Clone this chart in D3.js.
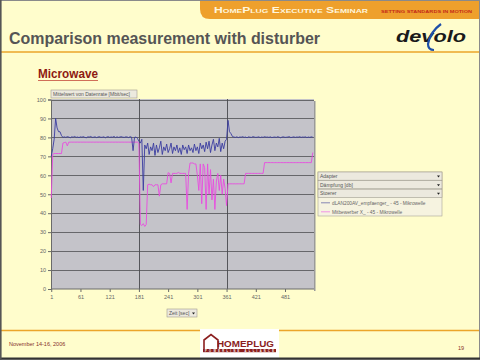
<!DOCTYPE html>
<html>
<head>
<meta charset="utf-8">
<script src="https://cdn.jsdelivr.net/npm/d3@7"></script>
<style>
  html, body { margin: 0; padding: 0; background: #fffdcc; }
  svg text { font-family: "Liberation Sans", Arial, sans-serif; }
</style>
</head>
<body>
<div id="slide"></div>
<script>
// sample times (sec), one reading every 3 seconds
const timeSec = d3.range(1, 541, 3);

// dLAN200AV_empfaenger_ - 45 - Mikrowelle  (Mbit/sec)
const dlanValues = [
  70, 74, 79, 90, 85, 83, 83, 81, 80, 80.3,
  80, 80.4, 80.2, 79.8, 80.3, 80.1, 80.5, 80, 80.2, 79.9,
  80.3, 80.1, 80.4, 80, 79.8, 80.3, 80.2, 80.5, 80, 80.1,
  80.3, 79.9, 80.2, 80.4, 80, 80.1, 80.3, 79.8, 80.2, 80.4,
  80, 80.2, 80.1, 80.5, 79.9, 80.3, 80, 80.2, 80.4, 80.1,
  80, 80.3, 80.2, 79.9, 80.4, 80.1, 73, 80, 80.2, 79.5,
  78, 77, 79, 52, 76, 74, 77, 71, 75, 73,
  77, 70.5, 76, 72, 74.5, 78, 71, 75, 73, 76.5,
  72, 74, 77, 71.5, 75, 73, 76, 72, 74.5, 71,
  76, 73.5, 75, 71.5, 76, 73, 74.5, 72, 76.5, 73,
  75, 71.5, 77, 74, 76, 72.5, 77.5, 74, 78, 72,
  76, 79, 73, 77, 75, 79.5, 72.5, 77, 74, 78,
  79, 89, 83, 82, 80.5, 80.2, 80, 80.3, 79.9, 80.2,
  80.1, 80.4, 80, 80.2, 79.8, 80.3, 80.1, 80, 80.4, 80.2,
  80, 80.1, 80.3, 79.9, 80.2, 80, 80.4, 80.1, 80.2, 80,
  80.3, 79.9, 80.1, 80.2, 80, 80.4, 80.1, 79.8, 80.2, 80.3,
  80, 80.1, 80.2, 80.4, 79.9, 80.1, 80.3, 80, 80.2, 80.1,
  80.4, 80, 80.2, 80.1, 80.3, 79.9, 80.2, 80, 80.3, 80.1
];

// Mitbewerber X_ - 45 - Mikrowelle  (Mbit/sec)
const rivalValues = [
  48, 71, 71.5, 71.5, 71.5, 71.5, 71.5, 71.5, 77, 77.3,
  77.5, 75.5, 77.5, 77.5, 77.5, 77.5, 77.5, 77.5, 77.5, 77.5,
  77.5, 77.5, 77.5, 77.5, 77.5, 77.5, 77.5, 77.5, 77.5, 77.5,
  77.5, 77.5, 77.5, 77.5, 77.5, 77.5, 77.5, 77.5, 77.5, 77.5,
  77.5, 77.5, 77.5, 77.5, 77.5, 77.5, 77.5, 77.5, 77.5, 77.5,
  77.5, 77.5, 77.5, 77.5, 77.5, 77.5, 77.5, 77.5, 77.5, 77.5,
  77, 34, 33.5, 34.5, 33, 34, 55, 55.3, 55, 55,
  54, 55, 55, 55, 49, 55, 55.5, 55.5, 55.5, 55.5,
  61.4, 61, 56, 61, 61, 61, 61, 61.5, 61, 61,
  61, 61, 61, 42, 61, 66.5, 66.5, 66.5, 66, 66,
  60, 52, 66, 45, 66, 64, 42, 66, 50, 63,
  47, 58, 42, 57, 61, 52, 60, 50, 58, 53,
  44, 55.5, 55.5, 55.5, 55.5, 55.5, 55.5, 55.5, 55.5, 55.5,
  55.5, 55.5, 55.5, 61, 61, 61, 61, 61, 61, 61,
  61, 61, 61, 61, 61, 61, 66.7, 66.7, 66.7, 66.7,
  66.7, 66.7, 66.7, 66.7, 66.7, 66.7, 66.7, 66.7, 66.7, 66.7,
  66.7, 66.7, 66.7, 66.7, 66.7, 66.7, 66.7, 66.7, 66.7, 66.7,
  66.7, 66.7, 66.7, 66.7, 66.7, 66.7, 66.7, 66.7, 66.7, 72
];

const yTicks = [0, 10, 20, 30, 40, 50, 60, 70, 80, 90, 100];
const xTicks = [1, 61, 121, 181, 241, 301, 361, 421, 481];
const xGridLines = [181, 361];
const seriesNames = ["dLAN200AV_empfaenger_ - 45 - Mikrowelle", "Mitbewerber X_ - 45 - Mikrowelle"];
const filterNames = ["Adapter", "Dämpfung [db]", "Stoerer"];

const W = 480, H = 360;
const plot = { left: 51, right: 314, top: 99, bottom: 289 };

const svg = d3.select('#slide').append('svg')
  .attr('width', W)
  .attr('height', H);

svg.append('rect').attr('width', W).attr('height', H).attr('fill', '#fffdcc');

// top banner
svg.append('path')
  .attr('d', `M200,0 H480 V19 H210 Q200,19 200,9 Z`)
  .attr('fill', '#eea02c');
svg.append('text')
  .attr('x', 214).attr('y', 13)
  .attr('fill', '#fff6dc')
  .attr('font-size', 8.5).attr('font-weight', 'bold')
  .style('font-variant', 'small-caps')
  .attr('textLength', 154).attr('lengthAdjust', 'spacingAndGlyphs')
  .text('HomePlug Executive Seminar');
svg.append('text')
  .attr('x', 381).attr('y', 12.5)
  .attr('fill', '#c42a18')
  .attr('font-size', 4.2).attr('font-weight', 'bold')
  .attr('textLength', 91).attr('lengthAdjust', 'spacingAndGlyphs')
  .text('SETTING STANDARDS IN MOTION');

// title
svg.append('text')
  .attr('x', 9).attr('y', 44)
  .attr('fill', '#555555')
  .attr('font-size', 16.5).attr('font-weight', 'bold')
  .attr('textLength', 311).attr('lengthAdjust', 'spacingAndGlyphs')
  .text('Comparison measurement with disturber');

// devolo logo
svg.append('text')
  .attr('x', 396).attr('y', 42)
  .attr('fill', '#1a1a1a')
  .attr('font-size', 17).attr('font-weight', 'bold').attr('font-style', 'italic')
  .attr('textLength', 70).attr('lengthAdjust', 'spacingAndGlyphs')
  .text('devolo');
svg.append('path')
  .attr('d', 'M441,24 Q430,32 428,44 Q428,50 434,50')
  .attr('fill', 'none').attr('stroke', '#1d4fa8').attr('stroke-width', 2.2);

// rules
svg.append('line').attr('x1', 0).attr('x2', W).attr('y1', 52).attr('y2', 52)
  .attr('stroke', '#eba52a').attr('stroke-width', 1.6);
svg.append('line').attr('x1', 0).attr('x2', W).attr('y1', 330.5).attr('y2', 330.5)
  .attr('stroke', '#eba52a').attr('stroke-width', 1.6);

// subtitle
svg.append('text')
  .attr('x', 38).attr('y', 78)
  .attr('fill', '#8e1a12')
  .attr('font-size', 12.5).attr('font-weight', 'bold')
  .attr('textLength', 60).attr('lengthAdjust', 'spacingAndGlyphs')
  .text('Microwave');
svg.append('line').attr('x1', 38).attr('x2', 98).attr('y1', 80.5).attr('y2', 80.5)
  .attr('stroke', '#c44a3a').attr('stroke-width', 0.8);

// chart
const x = d3.scaleLinear().domain([0.5, 540.5]).range([plot.left, plot.right]);
const y = d3.scaleLinear().domain([0, 100]).range([plot.bottom, plot.top + 0.5]);

const chart = svg.append('g');

chart.append('rect')
  .attr('x', plot.right).attr('y', plot.top + 2)
  .attr('width', 1.5).attr('height', plot.bottom - plot.top)
  .attr('fill', '#9a9a9a');
chart.append('rect')
  .attr('x', plot.left).attr('y', plot.top)
  .attr('width', plot.right - plot.left).attr('height', plot.bottom - plot.top)
  .attr('fill', '#c4c3c9');

// gridlines
chart.selectAll('.hgrid')
  .data(yTicks.filter(d => d > 0))
  .enter().append('line')
  .attr('class', 'hgrid')
  .attr('x1', plot.left).attr('x2', plot.right)
  .attr('y1', d => Math.round(y(d)) + 0.5).attr('y2', d => Math.round(y(d)) + 0.5)
  .attr('stroke', '#5c5c60').attr('stroke-width', 0.9);

chart.selectAll('.vgrid')
  .data(xGridLines)
  .enter().append('line')
  .attr('class', 'vgrid')
  .attr('x1', d => Math.round(x(d)) + 0.5).attr('x2', d => Math.round(x(d)) + 0.5)
  .attr('y1', plot.top).attr('y2', plot.bottom)
  .attr('stroke', '#4a4a4e').attr('stroke-width', 0.9);

// axes
const yAxis = d3.axisLeft(y).tickValues(yTicks).tickSize(3).tickPadding(2);
const yG = chart.append('g')
  .attr('transform', `translate(${plot.left},0)`)
  .call(yAxis);
const xAxis = d3.axisBottom(x).tickValues(xTicks).tickSize(3).tickPadding(3);
const xG = chart.append('g')
  .attr('transform', `translate(0,${plot.bottom})`)
  .call(xAxis);
[yG, xG].forEach(g => {
  g.select('.domain').attr('stroke', '#6a6a6a');
  g.selectAll('.tick line').attr('stroke', '#6a6a6a');
  g.selectAll('.tick text').attr('fill', '#666').attr('font-size', 5.5);
});
xG.select('.domain').attr('d', `M${plot.left},0H${plot.right}`);

// series
const line = d3.line()
  .x((d, i) => x(timeSec[i]))
  .y(d => y(d));

chart.append('path')
  .datum(rivalValues)
  .attr('fill', 'none')
  .attr('stroke', '#e94be0')
  .attr('stroke-width', 0.9)
  .attr('d', line);

chart.append('path')
  .datum(dlanValues)
  .attr('fill', 'none')
  .attr('stroke', '#3a3ca0')
  .attr('stroke-width', 0.9)
  .attr('d', line);

// field buttons
function fieldButton(bx, by, bw, bh, label, arrow) {
  const g = svg.append('g');
  g.append('rect').attr('x', bx).attr('y', by).attr('width', bw).attr('height', bh)
    .attr('fill', '#ece9de').attr('stroke', '#a09c90').attr('stroke-width', 0.6);
  g.append('text').attr('x', bx + 2).attr('y', by + bh - 2)
    .attr('fill', '#555').attr('font-size', 5).text(label);
  if (arrow) {
    g.append('path')
      .attr('d', `M${bx + bw - 5},${by + bh / 2 - 0.5} h3 l-1.5,2 z`)
      .attr('fill', '#222');
  }
  return g;
}

fieldButton(51, 90, 86, 8, 'Mittelwert von Datenrate [Mbit/sec]', false);
fieldButton(167, 309, 30, 8, 'Zeit [sec]', true);

// legend
const legend = svg.append('g');
legend.append('rect')
  .attr('x', 318).attr('y', 172).attr('width', 124).attr('height', 44)
  .attr('fill', '#f6f3e0').attr('stroke', '#a8a496').attr('stroke-width', 0.6);
filterNames.forEach((name, i) => {
  fieldButton(318, 172 + i * 8.6, 124, 8.2, name, true);
});
const legendColors = ['#6a6aa8', '#f07ae8'];
seriesNames.forEach((name, i) => {
  const ly = 202.8 + i * 9;
  legend.append('line').attr('x1', 321).attr('x2', 330).attr('y1', ly).attr('y2', ly)
    .attr('stroke', legendColors[i]).attr('stroke-width', 0.8);
  legend.append('text').attr('x', 332).attr('y', ly + 1.8)
    .attr('fill', '#666').attr('font-size', 4.8).text(name);
});

// footer
svg.append('text')
  .attr('x', 9).attr('y', 346)
  .attr('fill', '#86302a').attr('font-size', 5.5)
  .text('November 14-16, 2006');
svg.append('text')
  .attr('x', 458).attr('y', 350)
  .attr('fill', '#86302a').attr('font-size', 5.5)
  .text('19');

// HomePlug logo
const logo = svg.append('g');
logo.append('rect').attr('x', 200).attr('y', 329).attr('width', 79).attr('height', 29).attr('fill', '#ffffff');
logo.append('path')
  .attr('d', 'M204,349 V340 L211,334.5 L218,340 V349')
  .attr('fill', 'none').attr('stroke', '#8b1e1e').attr('stroke-width', 1.6);
logo.append('text')
  .attr('x', 217).attr('y', 347).attr('fill', '#8b1e1e')
  .attr('font-size', 8.5).attr('font-weight', 'bold')
  .attr('textLength', 57).attr('lengthAdjust', 'spacingAndGlyphs')
  .text('HOMEPLUG');
logo.append('rect').attr('x', 203).attr('y', 349).attr('width', 73).attr('height', 3.2).attr('fill', '#8b1e1e');
logo.append('text')
  .attr('x', 205).attr('y', 351.6).attr('fill', '#ffffff')
  .attr('font-size', 2.6).attr('font-weight', 'bold')
  .attr('textLength', 69).attr('lengthAdjust', 'spacing')
  .text('POWERLINE ALLIANCE');

// slide frame
svg.append('rect').attr('x', 0.5).attr('y', 0.5).attr('width', W - 1).attr('height', H - 1)
  .attr('fill', 'none').attr('stroke', '#8a8a8a').attr('stroke-width', 1);
svg.append('line').attr('x1', 0).attr('x2', W).attr('y1', 358.5).attr('y2', 358.5)
  .attr('stroke', '#333').attr('stroke-width', 2);
svg.append('line').attr('x1', 0.8).attr('x2', 0.8).attr('y1', 0).attr('y2', H)
  .attr('stroke', '#555').attr('stroke-width', 1.6);
</script>
</body>
</html>
